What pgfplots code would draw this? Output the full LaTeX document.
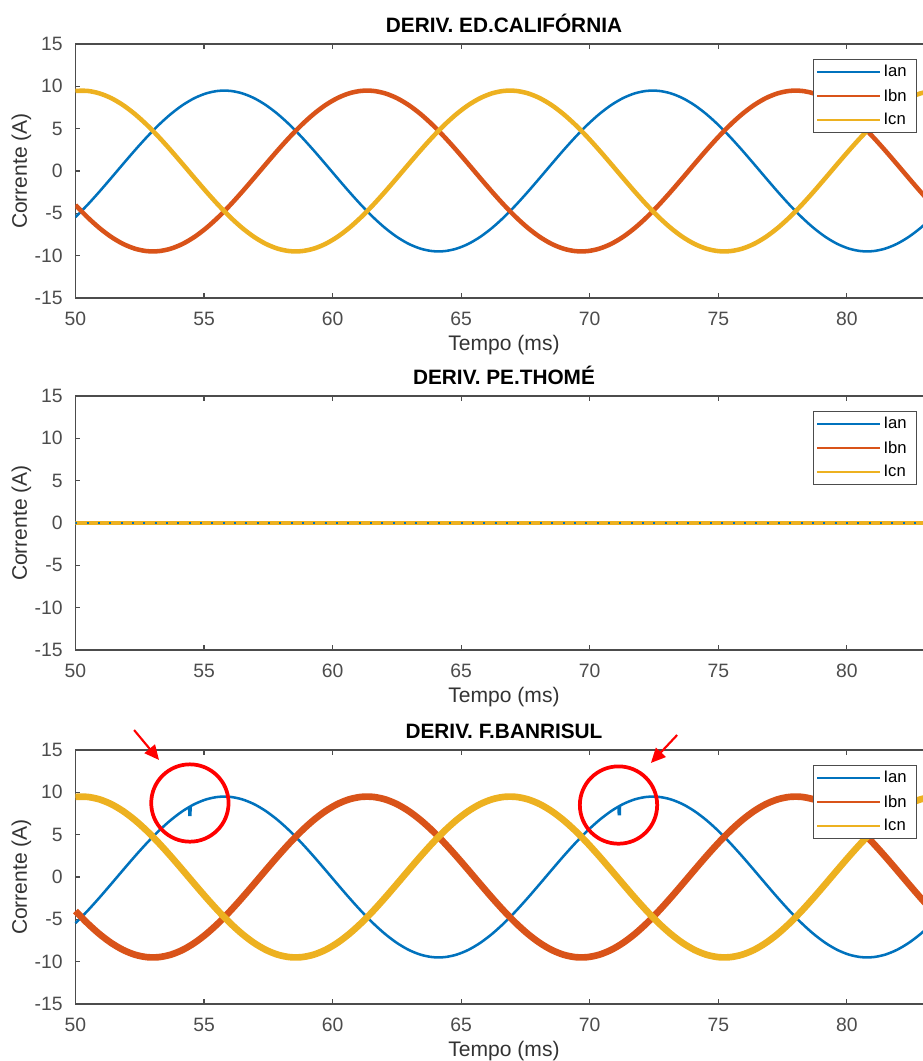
\documentclass[border=0pt]{standalone}
\usepackage{fontspec}
\setmainfont{Liberation Sans}
\usepackage{pgfplots}
\usepackage{pgfplotstable}
\pgfplotsset{compat=1.18}
\usetikzlibrary{arrows.meta}

\definecolor{cIan}{RGB}{0,114,189}
\definecolor{cIbn}{RGB}{217,83,25}
\definecolor{cIcn}{RGB}{237,177,32}
\definecolor{axgray}{gray}{0.3}
\definecolor{labgray}{gray}{0.2}

% t (ms), Ian, Ibn, Icn (A)
\pgfplotstableread{
t ian ibn icn
50.000 -5.449 -4.015 9.464
50.463 -4.015 -5.449 9.464
50.926 -2.459 -6.717 9.176
51.389 -0.828 -7.782 8.610
51.852 0.828 -8.610 7.782
52.315 2.459 -9.176 6.717
52.778 4.015 -9.464 5.449
53.241 5.449 -9.464 4.015
53.704 6.717 -9.176 2.459
54.167 7.782 -8.610 0.828
54.630 8.610 -7.782 -0.828
55.093 9.176 -6.717 -2.459
55.556 9.464 -5.449 -4.015
56.019 9.464 -4.015 -5.449
56.481 9.176 -2.459 -6.717
56.944 8.610 -0.828 -7.782
57.407 7.782 0.828 -8.610
57.870 6.717 2.459 -9.176
58.333 5.449 4.015 -9.464
58.796 4.015 5.449 -9.464
59.259 2.459 6.717 -9.176
59.722 0.828 7.782 -8.610
60.185 -0.828 8.610 -7.782
60.648 -2.459 9.176 -6.717
61.111 -4.015 9.464 -5.449
61.574 -5.449 9.464 -4.015
62.037 -6.717 9.176 -2.459
62.500 -7.782 8.610 -0.828
62.963 -8.610 7.782 0.828
63.426 -9.176 6.717 2.459
63.889 -9.464 5.449 4.015
64.352 -9.464 4.015 5.449
64.815 -9.176 2.459 6.717
65.278 -8.610 0.828 7.782
65.741 -7.782 -0.828 8.610
66.204 -6.717 -2.459 9.176
66.667 -5.449 -4.015 9.464
67.130 -4.015 -5.449 9.464
67.593 -2.459 -6.717 9.176
68.056 -0.828 -7.782 8.610
68.519 0.828 -8.610 7.782
68.981 2.459 -9.176 6.717
69.444 4.015 -9.464 5.449
69.907 5.449 -9.464 4.015
70.370 6.717 -9.176 2.459
70.833 7.782 -8.610 0.828
71.296 8.610 -7.782 -0.828
71.759 9.176 -6.717 -2.459
72.222 9.464 -5.449 -4.015
72.685 9.464 -4.015 -5.449
73.148 9.176 -2.459 -6.717
73.611 8.610 -0.828 -7.782
74.074 7.782 0.828 -8.610
74.537 6.717 2.459 -9.176
75.000 5.449 4.015 -9.464
75.463 4.015 5.449 -9.464
75.926 2.459 6.717 -9.176
76.389 0.828 7.782 -8.610
76.852 -0.828 8.610 -7.782
77.315 -2.459 9.176 -6.717
77.778 -4.015 9.464 -5.449
78.241 -5.449 9.464 -4.015
78.704 -6.717 9.176 -2.459
79.167 -7.782 8.610 -0.828
79.630 -8.610 7.782 0.828
80.093 -9.176 6.717 2.459
80.556 -9.464 5.449 4.015
81.019 -9.464 4.015 5.449
81.481 -9.176 2.459 6.717
81.944 -8.610 0.828 7.782
82.407 -7.782 -0.828 8.610
82.870 -6.717 -2.459 9.176
83.333 -5.449 -4.015 9.464
}\correntes

\pgfplotsset{
  painel/.style={
    scale only axis,
    width=642.8pt, height=190.5pt,
    anchor=north west,
    xmin=50, xmax=83.333, ymin=-15, ymax=15,
    xtick={50,55,...,80}, ytick={-15,-10,...,15},
    tick align=inside, major tick length=3.75pt,
    axis line style={draw=axgray, line width=0.9pt},
    tick style={draw=axgray, line width=0.9pt},
    every tick label/.append style={font=\fontsize{14.5}{16}\selectfont, text=axgray},
    xticklabel style={anchor=base, yshift=-20.25pt},
    yticklabel style={xshift=-6.1pt},
    /pgf/number format/assume math mode=true,
    xlabel={Tempo (ms)}, ylabel={Corrente (A)},
    every axis x label/.style={at={(rel axis cs:0.5,0)}, yshift=-35pt, anchor=center},
    every axis y label/.style={at={(rel axis cs:0,0.5)}, xshift=-40.5pt, rotate=90, anchor=center},
    label style={font=\fontsize{15.8}{18}\selectfont, text=labgray},
    every axis title/.style={at={(rel axis cs:0.5,1)}, yshift=8.6pt, anchor=base,
      font=\bfseries\fontsize{15.6}{17}\selectfont},
    legend style={at={(1,1)}, anchor=north east, xshift=-12pt, yshift=-11.25pt,
      draw=axgray, line width=0.75pt, font=\fontsize{12.5}{14}\selectfont,
      inner xsep=2pt, inner ysep=2.5pt, row sep=3.5pt},
    legend cell align=left,
    legend image code/.code={\draw[#1, line width=1.6pt] (0pt,0pt) -- (47pt,0pt);},
  },
}

\newcommand{\entradas}{\legend{Ian\hspace*{3pt}, Ibn\hspace*{3pt}, Icn\hspace*{3pt}}}

\begin{document}
\begin{tikzpicture}

\begin{axis}[painel, at={(0,0)}, title={DERIV. ED.CALIFÓRNIA}]
\addplot[cIan, line width=1.9pt, smooth] table[x=t, y=ian] {\correntes};
\addplot[cIbn, line width=3.4pt, smooth] table[x=t, y=ibn] {\correntes};
\addplot[cIcn, line width=3.4pt, smooth] table[x=t, y=icn] {\correntes};
\entradas
\end{axis}

\begin{axis}[painel, at={(0,-264pt)}, title={DERIV. PE.THOMÉ}]
\addplot[cIan, line width=2pt] coordinates {(50,0) (83.333,0)};
\addplot[cIbn, line width=2pt] coordinates {(50,0) (83.333,0)};
\addplot[cIcn, line width=2.6pt] coordinates {(50,0) (83.333,0)};
\addplot[cIan, line width=0.8pt, dash pattern=on 1.5pt off 7pt, forget plot] coordinates {(50,0) (83.333,0)};
\entradas
\end{axis}

\begin{axis}[painel, at={(0,-529.5pt)}, title={DERIV. F.BANRISUL}, clip=false]
\addplot[cIan, line width=1.9pt, smooth] table[x=t, y=ian] {\correntes};
\addplot[cIbn, line width=5pt, smooth] table[x=t, y=ibn] {\correntes};
\addplot[cIcn, line width=5pt, smooth] table[x=t, y=icn] {\correntes};
\addplot[cIan, line width=2.6pt, forget plot] coordinates {(54.44,8.28) (54.45,7.2) (54.46,8.30)};
\addplot[cIan, line width=2.6pt, forget plot] coordinates {(71.14,8.34) (71.15,7.3) (71.16,8.36)};
\entradas
\draw[red, line width=2.8pt] (axis cs:54.45,8.74) circle[radius=29pt];
\draw[red, line width=2.8pt] (axis cs:71.12,8.5) circle[radius=29pt];
\draw[red, line width=1.6pt, -{Triangle[length=11pt,width=10pt]}] (axis cs:52.28,17.36) -- (axis cs:53.25,13.82);
\draw[red, line width=1.6pt, -{Triangle[length=11pt,width=10pt]}] (axis cs:73.40,16.77) -- (axis cs:72.38,13.47);
\end{axis}

\pgfresetboundingbox
\path[use as bounding box] (-56.6pt,33pt) rectangle (634.9pt,-762.75pt);
\end{tikzpicture}
\end{document}
